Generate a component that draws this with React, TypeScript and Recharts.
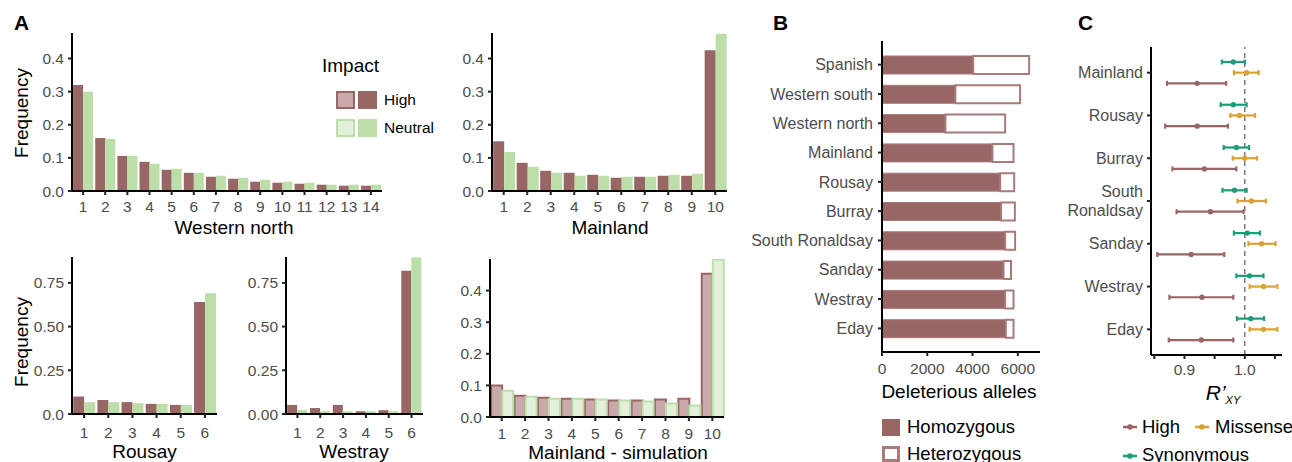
import React from "react";
import {
  BarChart,
  Bar,
  XAxis,
  YAxis,
  ScatterChart,
  Scatter,
  ErrorBar,
  ReferenceLine,
} from "recharts";

// ---- Panel A: frequency spectra ----
const wnCats = ["1", "2", "3", "4", "5", "6", "7", "8", "9", "10", "11", "12", "13", "14"];
const wnHigh = [0.32, 0.16, 0.106, 0.088, 0.064, 0.055, 0.043, 0.037, 0.028, 0.025, 0.022, 0.019, 0.016, 0.016];
const wnNeutral = [0.3, 0.157, 0.106, 0.082, 0.067, 0.055, 0.046, 0.04, 0.034, 0.028, 0.025, 0.019, 0.019, 0.019];

const mlCats = ["1", "2", "3", "4", "5", "6", "7", "8", "9", "10"];
const mlHigh = [0.15, 0.085, 0.061, 0.055, 0.049, 0.04, 0.043, 0.046, 0.046, 0.425];
const mlNeutral = [0.118, 0.073, 0.055, 0.046, 0.046, 0.043, 0.043, 0.049, 0.052, 0.475];

const rsCats = ["1", "2", "3", "4", "5", "6"];
const rsHigh = [0.1, 0.08, 0.068, 0.058, 0.052, 0.64];
const rsNeutral = [0.068, 0.068, 0.062, 0.058, 0.052, 0.69];

const wsCats = ["1", "2", "3", "4", "5", "6"];
const wsHigh = [0.052, 0.034, 0.052, 0.016, 0.022, 0.82];
const wsNeutral = [0.022, 0.016, 0.016, 0.016, 0.016, 0.895];

const simCats = ["1", "2", "3", "4", "5", "6", "7", "8", "9", "10"];
const simHigh = [0.1, 0.067, 0.061, 0.058, 0.055, 0.052, 0.052, 0.055, 0.058, 0.453];
const simNeutral = [0.083, 0.064, 0.058, 0.058, 0.055, 0.052, 0.049, 0.043, 0.036, 0.498];

const ticksSmall = [0, 0.1, 0.2, 0.3, 0.4];
const ticksBig = [0, 0.25, 0.5, 0.75];

// ---- Panel B: deleterious alleles ----
const bNames = ["Spanish", "Western south", "Western north", "Mainland", "Rousay", "Burray", "South Ronaldsay", "Sanday", "Westray", "Eday"];
const bHomo = [4030, 3240, 2800, 4880, 5220, 5260, 5440, 5370, 5440, 5470];
const bTotal = [6500, 6100, 5440, 5810, 5840, 5870, 5880, 5700, 5810, 5810];
const bTicks = [0, 2000, 4000, 6000];

// ---- Panel C: R'XY ----
const cNames = ["Mainland", "Rousay", "Burray", "South\nRonaldsay", "Sanday", "Westray", "Eday"];
const synPt = [0.981, 0.981, 0.986, 0.983, 1.004, 1.008, 1.01];
const synLo = [0.962, 0.96, 0.965, 0.963, 0.982, 0.986, 0.987];
const synHi = [1.0, 1.003, 1.007, 1.003, 1.025, 1.031, 1.032];
const misPt = [1.003, 0.991, 1.0, 1.011, 1.028, 1.031, 1.031];
const misLo = [0.982, 0.976, 0.98, 0.988, 1.006, 1.008, 1.008];
const misHi = [1.023, 1.017, 1.02, 1.035, 1.051, 1.054, 1.054];
const highPt = [0.921, 0.921, 0.933, 0.943, 0.911, 0.929, 0.928];
const highLo = [0.871, 0.868, 0.88, 0.887, 0.855, 0.875, 0.874];
const highHi = [0.969, 0.972, 0.986, 0.998, 0.966, 0.981, 0.981];
const cTicks = [0.85, 0.9, 0.95, 1.0, 1.05];

const BROWN = "#996666";
const BROWN_LIGHT = "#c9a9a9";
const GREEN = "#bcdfa9";
const GREEN_LIGHT = "#e4efdc";
const GOLD = "#d9a233";
const TEAL = "#1b9e77";

const FONT = '"Liberation Sans", Arial, sans-serif';
const axisLine = { stroke: "#000", strokeWidth: 2 };
const tickLine = { stroke: "#222", strokeWidth: 2 };
const tickText = (size: number) => ({ fill: "#4d4d4d", fontSize: size });

type FreqProps = {
  left: number;
  top: number;
  width: number;
  height: number;
  margin: { top: number; right: number; bottom: number; left: number };
  yWidth: number;
  xHeight: number;
  xTickMargin: number;
  cats: string[];
  high: number[];
  neutral: number[];
  yMax: number;
  yTicks: number[];
  yFmt: (v: number) => string;
  sim?: boolean;
};

function FreqChart(p: FreqProps) {
  const rows = p.cats.map((c, i) => ({ cat: c, high: p.high[i], neutral: p.neutral[i] }));
  return (
    <div style={{ position: "absolute", left: p.left, top: p.top }}>
      <BarChart
        width={p.width}
        height={p.height}
        data={rows}
        margin={p.margin}
        barCategoryGap="5%"
        barGap={0}
      >
        <XAxis
          dataKey="cat"
          height={p.xHeight}
          interval={0}
          tickSize={4}
          tickMargin={p.xTickMargin}
          axisLine={axisLine}
          tickLine={tickLine}
          tick={tickText(15.5)}
        />
        <YAxis
          type="number"
          domain={[0, p.yMax]}
          ticks={p.yTicks}
          allowDataOverflow
          width={p.yWidth}
          tickSize={4}
          tickMargin={4}
          tickFormatter={p.yFmt}
          axisLine={axisLine}
          tickLine={tickLine}
          tick={tickText(15.5)}
        />
        <Bar
          dataKey="high"
          fill={p.sim ? BROWN_LIGHT : BROWN}
          stroke={p.sim ? BROWN : "none"}
          strokeWidth={p.sim ? 2 : 0}
          isAnimationActive={false}
        />
        <Bar
          dataKey="neutral"
          fill={p.sim ? GREEN_LIGHT : GREEN}
          stroke={p.sim ? GREEN : "none"}
          strokeWidth={p.sim ? 2 : 0}
          isAnimationActive={false}
        />
      </BarChart>
    </div>
  );
}

function Txt(props: {
  x: number;
  y: number;
  size: number;
  children: React.ReactNode;
  align?: "center" | "left";
  rotate?: boolean;
  bold?: boolean;
  color?: string;
}) {
  const center = props.align !== "left";
  return (
    <div
      style={{
        position: "absolute",
        left: props.x,
        top: props.y,
        fontSize: props.size,
        fontWeight: props.bold ? 700 : 400,
        color: props.color || "#000",
        whiteSpace: "nowrap",
        lineHeight: 1,
        transform: `translate(${center ? "-50%" : "0"}, -50%)${props.rotate ? " rotate(-90deg)" : ""}`,
      }}
    >
      {props.children}
    </div>
  );
}

function Box(props: { x: number; y: number; w: number; h: number; fill: string; border?: string; bw?: number }) {
  return (
    <div
      style={{
        position: "absolute",
        left: props.x,
        top: props.y,
        width: props.w,
        height: props.h,
        boxSizing: "border-box",
        background: props.fill,
        border: props.border ? `${props.bw || 2}px solid ${props.border}` : "none",
      }}
    />
  );
}

function Glyph(props: { x: number; y: number; color: string }) {
  return (
    <svg style={{ position: "absolute", left: props.x, top: props.y - 5 }} width={14} height={10}>
      <line x1={0} y1={5} x2={14} y2={5} stroke={props.color} strokeWidth={2.5} />
      <circle cx={7} cy={5} r={2.8} fill={props.color} />
    </svg>
  );
}

function CTick(props: any) {
  const { x, y, payload } = props;
  const label = cNames[Math.round(payload.value)] || "";
  const lines = label.split("\n");
  return (
    <text x={x} y={y} textAnchor="end" fill="#4d4d4d" fontSize={16}>
      {lines.map((l: string, i: number) => (
        <tspan key={i} x={x} dy={i === 0 ? `${0.355 - (lines.length - 1) * 0.6}em` : "1.2em"}>
          {l}
        </tspan>
      ))}
    </text>
  );
}

const dot = (color: string) => (props: any) => (
  <circle cx={props.cx} cy={props.cy} r={2.7} fill={color} />
);

function seriesRows(pt: number[], lo: number[], hi: number[], off: number) {
  return pt.map((v, i) => ({ x: v, y: i + off, err: [v - lo[i], hi[i] - v] }));
}

export default function App() {
  const bRows = bNames.map((n, i) => ({ name: n, homo: bHomo[i], het: bTotal[i] - bHomo[i] }));
  const highRows = seriesRows(highPt, highLo, highHi, 0.25);
  const misRows = seriesRows(misPt, misLo, misHi, 0);
  const synRows = seriesRows(synPt, synLo, synHi, -0.25);

  return (
    <div
      style={{
        position: "absolute",
        left: 0,
        top: 0,
        width: 1292,
        height: 462,
        background: "#fff",
        fontFamily: FONT,
        overflow: "hidden",
      }}
    >
      {/* Panel A */}
      <FreqChart
        left={0}
        top={0}
        width={400}
        height={240}
        margin={{ top: 33, right: 18, bottom: 0, left: 0 }}
        yWidth={72}
        xHeight={49}
        xTickMargin={6}
        cats={wnCats}
        high={wnHigh}
        neutral={wnNeutral}
        yMax={0.477}
        yTicks={ticksSmall}
        yFmt={(v) => v.toFixed(1)}
      />
      <FreqChart
        left={440}
        top={0}
        width={300}
        height={240}
        margin={{ top: 33, right: 13, bottom: 0, left: 0 }}
        yWidth={52}
        xHeight={49}
        xTickMargin={6}
        cats={mlCats}
        high={mlHigh}
        neutral={mlNeutral}
        yMax={0.477}
        yTicks={ticksSmall}
        yFmt={(v) => v.toFixed(1)}
      />
      <FreqChart
        left={0}
        top={240}
        width={230}
        height={222}
        margin={{ top: 17, right: 13, bottom: 0, left: 0 }}
        yWidth={72}
        xHeight={48}
        xTickMargin={9}
        cats={rsCats}
        high={rsHigh}
        neutral={rsNeutral}
        yMax={0.898}
        yTicks={ticksBig}
        yFmt={(v) => (v === 0 ? "0.0" : v.toFixed(2))}
      />
      <FreqChart
        left={230}
        top={240}
        width={200}
        height={222}
        margin={{ top: 17, right: 7, bottom: 0, left: 0 }}
        yWidth={56}
        xHeight={48}
        xTickMargin={9}
        cats={wsCats}
        high={wsHigh}
        neutral={wsNeutral}
        yMax={0.898}
        yTicks={ticksBig}
        yFmt={(v) => v.toFixed(2)}
      />
      <FreqChart
        left={440}
        top={240}
        width={300}
        height={222}
        margin={{ top: 19, right: 16, bottom: 0, left: 0 }}
        yWidth={50}
        xHeight={45}
        xTickMargin={7}
        cats={simCats}
        high={simHigh}
        neutral={simNeutral}
        yMax={0.5}
        yTicks={ticksSmall}
        yFmt={(v) => v.toFixed(1)}
        sim
      />

      <Txt x={21.5} y={22} size={21} bold>A</Txt>
      <Txt x={21} y={113} size={19} rotate>Frequency</Txt>
      <Txt x={21} y={342} size={19} rotate>Frequency</Txt>
      <Txt x={234} y={227} size={19}>Western north</Txt>
      <Txt x={610} y={227} size={19}>Mainland</Txt>
      <Txt x={144.5} y={451} size={19}>Rousay</Txt>
      <Txt x={354} y={451} size={19}>Westray</Txt>
      <Txt x={618} y={452} size={19}>Mainland - simulation</Txt>

      {/* Panel A legend */}
      <Txt x={322} y={65} size={19} align="left">Impact</Txt>
      <Box x={336} y={91} w={19} h={18} fill={BROWN_LIGHT} border={BROWN} bw={2.5} />
      <Box x={358} y={91} w={19} h={18} fill={BROWN} />
      <Txt x={384} y={100} size={15.5} align="left">High</Txt>
      <Box x={336} y={118.5} w={19} h={18} fill={GREEN_LIGHT} border={GREEN} bw={2.5} />
      <Box x={358} y={118.5} w={19} h={18} fill={GREEN} />
      <Txt x={384} y={127.5} size={15.5} align="left">Neutral</Txt>

      {/* Panel B */}
      <div style={{ position: "absolute", left: 740, top: 0 }}>
        <BarChart
          width={300}
          height={462}
          data={bRows}
          layout="vertical"
          margin={{ top: 41, right: 0, bottom: 0, left: 0 }}
          barSize={18}
        >
          <XAxis
            type="number"
            domain={[0, 6980]}
            ticks={bTicks}
            allowDataOverflow
            height={110}
            tickSize={4}
            tickMargin={7}
            axisLine={axisLine}
            tickLine={tickLine}
            tick={tickText(15.5)}
          />
          <YAxis
            type="category"
            dataKey="name"
            width={142}
            interval={0}
            padding={{ top: 9, bottom: 9 }}
            tickSize={4}
            tickMargin={5}
            axisLine={axisLine}
            tickLine={tickLine}
            tick={tickText(16)}
          />
          <Bar dataKey="homo" stackId="a" fill={BROWN} stroke="#a97a7a" strokeWidth={1} isAnimationActive={false} />
          <Bar dataKey="het" stackId="a" fill="#fff" stroke="#a97a7a" strokeWidth={2} isAnimationActive={false} />
        </BarChart>
      </div>
      <Txt x={780.5} y={22} size={21} bold>B</Txt>
      <Txt x={959} y={391} size={19}>Deleterious alleles</Txt>
      <Box x={882} y={419} w={18} h={16.5} fill={BROWN} />
      <Txt x={907} y={427} size={18.5} align="left">Homozygous</Txt>
      <Box x={882} y={446} w={18} h={16} fill="#fff" border="#a97a7a" bw={3} />
      <Txt x={907} y={454} size={18.5} align="left">Heterozygous</Txt>

      {/* Panel C */}
      <div style={{ position: "absolute", left: 1040, top: 0 }}>
        <ScatterChart width={252} height={462} margin={{ top: 47, right: 10, bottom: 0, left: 0 }}>
          <XAxis
            type="number"
            dataKey="x"
            domain={[0.8445, 1.0617]}
            ticks={cTicks}
            allowDataOverflow
            height={107}
            tickSize={4}
            tickMargin={5}
            tickFormatter={(v: number) => (Math.abs(v - 0.9) < 1e-9 || Math.abs(v - 1) < 1e-9 ? v.toFixed(1) : "")}
            axisLine={axisLine}
            tickLine={tickLine}
            tick={tickText(15.5)}
          />
          <YAxis
            type="number"
            dataKey="y"
            domain={[-0.6, 6.6]}
            ticks={[0, 1, 2, 3, 4, 5, 6]}
            reversed
            allowDataOverflow
            width={111}
            tickSize={4}
            tickMargin={4}
            axisLine={axisLine}
            tickLine={tickLine}
            tick={<CTick />}
          />
          <ReferenceLine x={1} stroke="#666" strokeDasharray="5 4" strokeWidth={1.3} />
          <Scatter data={highRows} fill={BROWN} shape={dot(BROWN)} isAnimationActive={false}>
            <ErrorBar dataKey="err" direction="x" width={2.5} stroke={BROWN} strokeWidth={2.2} isAnimationActive={false} />
          </Scatter>
          <Scatter data={misRows} fill={GOLD} shape={dot(GOLD)} isAnimationActive={false}>
            <ErrorBar dataKey="err" direction="x" width={2.5} stroke={GOLD} strokeWidth={2.2} isAnimationActive={false} />
          </Scatter>
          <Scatter data={synRows} fill={TEAL} shape={dot(TEAL)} isAnimationActive={false}>
            <ErrorBar dataKey="err" direction="x" width={2.5} stroke={TEAL} strokeWidth={2.2} isAnimationActive={false} />
          </Scatter>
        </ScatterChart>
      </div>
      <Txt x={1085.5} y={22} size={21} bold>C</Txt>
      <div
        style={{
          position: "absolute",
          left: 1223,
          top: 392,
          transform: "translate(-50%, -50%)",
          whiteSpace: "nowrap",
          lineHeight: 1,
        }}
      >
        <span style={{ fontStyle: "italic", fontSize: 21 }}>R’</span>
        <span style={{ fontStyle: "italic", fontSize: 11, position: "relative", top: 4 }}>XY</span>
      </div>
      <Glyph x={1123} y={427} color={BROWN} />
      <Txt x={1142} y={427} size={18.5} align="left">High</Txt>
      <Glyph x={1195} y={427} color={GOLD} />
      <Txt x={1215} y={427} size={18.5} align="left">Missense</Txt>
      <Glyph x={1123} y={456} color={TEAL} />
      <Txt x={1142} y={455} size={18.5} align="left">Synonymous</Txt>
    </div>
  );
}
